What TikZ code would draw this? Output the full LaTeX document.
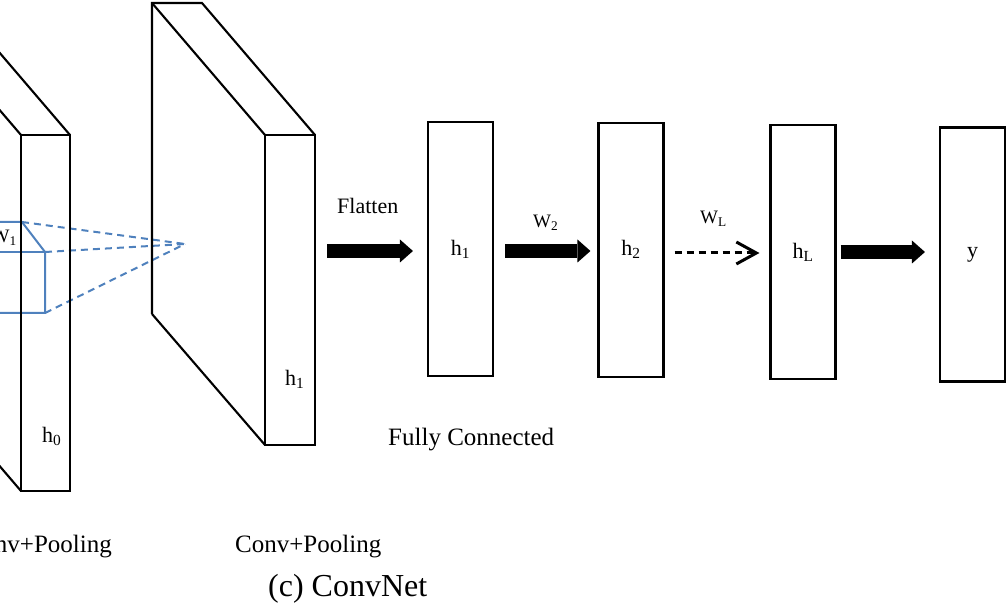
\documentclass[tikz,border=0pt]{standalone}
\usepackage{fontspec}
\setmainfont{Liberation Serif}
\usetikzlibrary{arrows.meta}
\definecolor{cubeblue}{RGB}{79,129,189}
\begin{document}
\begin{tikzpicture}[x=1pt,y=-1pt,
  edge/.style={line width=2.1pt, line join=miter},
  bluecube/.style={draw=cubeblue, line width=2pt},
  bluedash/.style={draw=cubeblue, line width=2pt, dash pattern=on 7pt off 5pt},
  fcbox/.style={draw, line width=2.1pt, minimum width=65pt, minimum height=254pt, inner sep=0pt,
     font=\fontsize{22}{26}\selectfont},
  lbl/.style={inner sep=0pt, font=\fontsize{22}{26}\selectfont},
  wlbl/.style={inner sep=0pt, font=\fontsize{19}{22}\selectfont},
  big/.style={inner sep=0pt, font=\fontsize{25}{30}\selectfont},
  fatarrow/.style={line width=14pt, -{Triangle[length=13pt,width=23pt,line width=0pt]}},
  dasharrow/.style={line width=3pt, dash pattern=on 7pt off 5pt,
     -{Straight Barb[length=20pt,width=22pt,line width=3pt,sharp]}}]
\useasboundingbox (0,0) rectangle (1007,612);

% ---- first conv block (partly outside) with the blue receptive field
\begin{scope}
\clip (0,0) rectangle (1007,612);
\draw[bluecube] (-40,222) -- (22,222) -- (45,252) -- (45,313) -- (-40,313);
\draw[bluecube] (-40,252) -- (45,252);
\coordinate (apex) at (185,244);
\coordinate (c1) at (22,222);
\coordinate (c2) at (45,252);
\coordinate (c3) at (45,313);
\draw[bluedash] (c1) -- (apex);
\draw[bluedash] (c2) -- (apex);
\draw[bluedash] (c3) -- (apex);
\draw[edge] (-92,359) -- (-92,3) -- (-43,3) -- (70,135);
\draw[edge] (-92,3) -- (21,135);
\draw[edge] (-92,359) -- (21,491);
\draw[edge] (21,135) rectangle (70,491);
\node[wlbl, anchor=base east] (w1) at (17,243) {W\textsubscript{1}};
\end{scope}

% ---- second conv block
\draw[edge] (152,314) -- (152,3) -- (202,3) -- (315,135);
\draw[edge] (152,3) -- (265,135);
\draw[edge] (152,314) -- (265,445);
\draw[edge] (265,135) rectangle (315,445);

\node[lbl, anchor=base west] (h0) at (42,442) {h\textsubscript{0}};
\node[lbl, anchor=base west] (ch1) at (285,385) {h\textsubscript{1}};

% ---- fully connected boxes
\node[fcbox] (fh1) at (460.5,249) {h\textsubscript{1}};
\node[fcbox] (fh2) at (631,249.7) {h\textsubscript{2}};
\node[fcbox] (fhL) at (803,252) {h\textsubscript{L}};
\node[fcbox] (fy) at (972.5,254.5) {y};

% ---- arrows
\coordinate (fs) at (327,251);
\draw[fatarrow, shorten >=14pt] (fs) -- (fs -| fh1.west);
\draw[fatarrow, shorten <=11pt, shorten >=7pt] (fh1.east |- 0,251) -- (fh2.west |- 0,251);
\draw[dasharrow, shorten <=10pt, shorten >=10pt] (fh2.east |- 0,253) -- (fhL.west |- 0,253);
\draw[fatarrow, shorten <=4pt, shorten >=14pt] (fhL.east |- 0,252) -- (fy.west |- 0,252);

% ---- labels
\node[lbl, anchor=base west] (flat) at (337,214) {Flatten};
\node[wlbl, anchor=base west] (w2) at (533,228) {W\textsubscript{2}};
\node[wlbl, anchor=base west] (wL) at (700,224) {W\textsubscript{L}};
\node[big, anchor=base west] (fc) at (388,445) {Fully Connected};
\node[big, anchor=base east] (cp1) at (112,552) {Conv+Pooling};
\node[big, anchor=base west] (cp2) at (235,552) {Conv+Pooling};
\node[inner sep=0pt, font=\fontsize{32}{38}\selectfont, anchor=base west] (cap) at (268,596) {(c) ConvNet};
\end{tikzpicture}
\end{document}
